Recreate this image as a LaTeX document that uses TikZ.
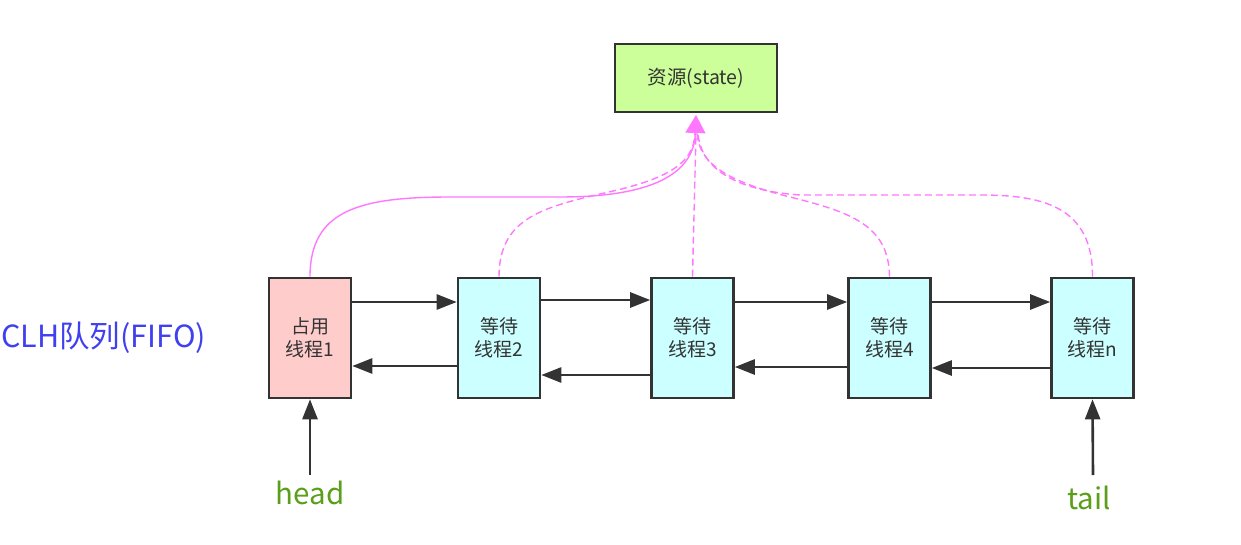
\documentclass[tikz,border=0pt]{standalone}
\usepackage{fontspec}
\setmainfont{Noto Sans CJK SC}
\usetikzlibrary{arrows.meta}
\definecolor{boxline}{HTML}{333333}
\definecolor{pinkfill}{HTML}{FFCCCC}
\definecolor{cyanfill}{HTML}{CCFFFF}
\definecolor{greenfill}{HTML}{CCFF99}
\definecolor{pinkline}{HTML}{FF77FF}
\definecolor{labgreen}{HTML}{5A9E1A}
\definecolor{labblue}{HTML}{4040F0}
\tikzset{
  thread/.style={draw=boxline, line width=2.6pt, minimum width=82pt, minimum height=120pt,
    inner sep=0pt, align=center, text=boxline, font=\fontsize{19}{23}\selectfont},
  res/.style={draw=boxline, line width=2.6pt, fill=greenfill, minimum width=162pt, minimum height=68pt,
    inner sep=0pt, text=boxline, font=\fontsize{19.5}{22}\selectfont},
  link/.style={draw=boxline, line width=2.6pt, -{Triangle[length=20pt,width=15pt]}},
  pinkarrow/.style={draw=pinkline, line width=1.4pt},
  pinkdash/.style={pinkarrow, dash pattern=on 7pt off 4pt},
  ptr/.style={font=\fontsize{29.5}{32}\selectfont, text=labgreen, anchor=base},
}
\begin{document}
\begin{tikzpicture}[x=1pt,y=-1pt]
\useasboundingbox (0,0) rectangle (1241,545);
\node[res] (state) at (696,78) {资源(state)};
\coordinate (tip) at (696,115);
\node[thread, fill=pinkfill] (b1) at (310,338) {占用\\线程1};
\node[thread, fill=cyanfill] (b2) at (499,338) {等待\\线程2};
\node[thread, fill=cyanfill] (b3) at (692.5,338) {等待\\线程3};
\node[thread, fill=cyanfill] (b4) at (889.5,338) {等待\\线程4};
\node[thread, fill=cyanfill] (bn) at (1092.5,338) {等待\\线程n};
\node[anchor=west, inner sep=0pt, text=labblue, font=\fontsize{30.5}{32}\selectfont] (clh) at (1,338) {CLH队列(FIFO)};
\node[ptr] (head) at (310,504) {head};
\node[ptr] (tail) at (1089,509) {tail};
\coordinate (headstart) at (310,475);
\coordinate (tailstart) at (1093,475);
% forward links
\draw[link] (b1.east |- 0,302) -- (b2.west |- 0,302);
\draw[link] (b2.east |- 0,300) -- (b3.west |- 0,300);
\draw[link] (b3.east |- 0,302) -- (b4.west |- 0,302);
\draw[link] (b4.east |- 0,302) -- (bn.west |- 0,302);
% backward links
\draw[link] (b2.west |- 0,366) -- (b1.east |- 0,366);
\draw[link] (b3.west |- 0,375) -- (b2.east |- 0,375);
\draw[link] (b4.west |- 0,367) -- (b3.east |- 0,367);
\draw[link] (bn.west |- 0,368) -- (b4.east |- 0,368);
% head / tail
\draw[link] (headstart) -- (b1.south);
\draw[link] (tailstart) -- (bn.south);
% pink curves
\draw[pinkdash] (b2.north) .. controls (499,220) and (540,208) .. (600,194) .. controls (665,180) and (694,165) .. (695,133);
\draw[pinkdash] (b3.north) -- (696,133);
\draw[pinkdash] (b4.north) .. controls (889,225) and (850,212) .. (790,197) .. controls (730,182) and (699,165) .. (697,133);
\draw[pinkdash] (bn.north) .. controls (1093,205) and (1040,195) .. (980,195) -- (800,195) .. controls (730,190) and (700,165) .. (698,133);
\draw[pinkarrow, -{Triangle[length=18pt,width=20pt]}] (b1.north) .. controls (310,210) and (360,197) .. (450,197) -- (560,197) .. controls (650,197) and (694,175) .. (tip);
\end{tikzpicture}
\end{document}
